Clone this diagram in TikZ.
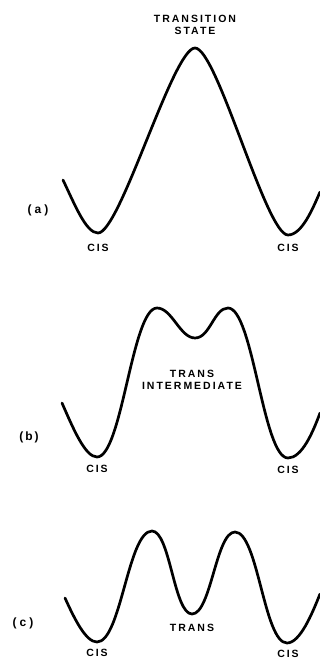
\documentclass[tikz,border=0pt]{standalone}
\usepackage{fontspec}
\setmainfont{Liberation Sans}[LetterSpace=19]
\begin{document}
\begin{tikzpicture}[x=1pt,y=-1pt,
  curve/.style={line width=2.7pt,line cap=round,line join=round},
  lab/.style={font=\fontsize{10.5}{12}\selectfont\bfseries,inner sep=0pt,align=center},
  plab/.style={font=\fontsize{12}{13}\selectfont\bfseries\addfontfeatures{LetterSpace=25},inner sep=0pt}]
\useasboundingbox (0,0) rectangle (320,659);
% (a)
\draw[curve] (63,180) .. controls (75,205) and (86,233) .. (98,233)
  .. controls (120,233) and (173,48) .. (195,48)
  .. controls (217,48) and (266,235) .. (288,235)
  .. controls (302,235) and (313,208) .. (320,192);
\node[lab] (ts) at (195,25) {TRANSITION\\STATE};
\node[plab] (pa) at (38,210) {(a)};
\node[lab] (c1) at (98,248) {CIS};
\node[lab] (c2) at (288,248) {CIS};
% (b)
\draw[curve] (62,403) .. controls (73,428) and (85,457) .. (97,457)
  .. controls (122,457) and (132,308) .. (157,308)
  .. controls (172,308) and (180,338) .. (195,338)
  .. controls (210,338) and (214,308) .. (228,308)
  .. controls (253,308) and (263,458) .. (288,458)
  .. controls (302,458) and (313,432) .. (320,413);
\node[lab] (ti) at (192,380) {TRANS\\INTERMEDIATE};
\node[plab] (pb) at (29,437) {(\,b\,)};
\node[lab] (c3) at (97,469) {CIS};
\node[lab] (c4) at (288,470) {CIS};
% (c)
\draw[curve] (65,598) .. controls (75,620) and (86,642) .. (97,642)
  .. controls (121,642) and (128,531) .. (152,531)
  .. controls (170,531) and (174,614) .. (192,614)
  .. controls (211,614) and (216,532) .. (235,532)
  .. controls (258,532) and (264,643) .. (287,643)
  .. controls (300,643) and (312,614) .. (320,594);
\node[lab] (tr) at (192,628) {TRANS};
\node[plab] (pc) at (23,623) {(c)};
\node[lab] (c5) at (97,653) {CIS};
\node[lab] (c6) at (288,654) {CIS};
\end{tikzpicture}
\end{document}
